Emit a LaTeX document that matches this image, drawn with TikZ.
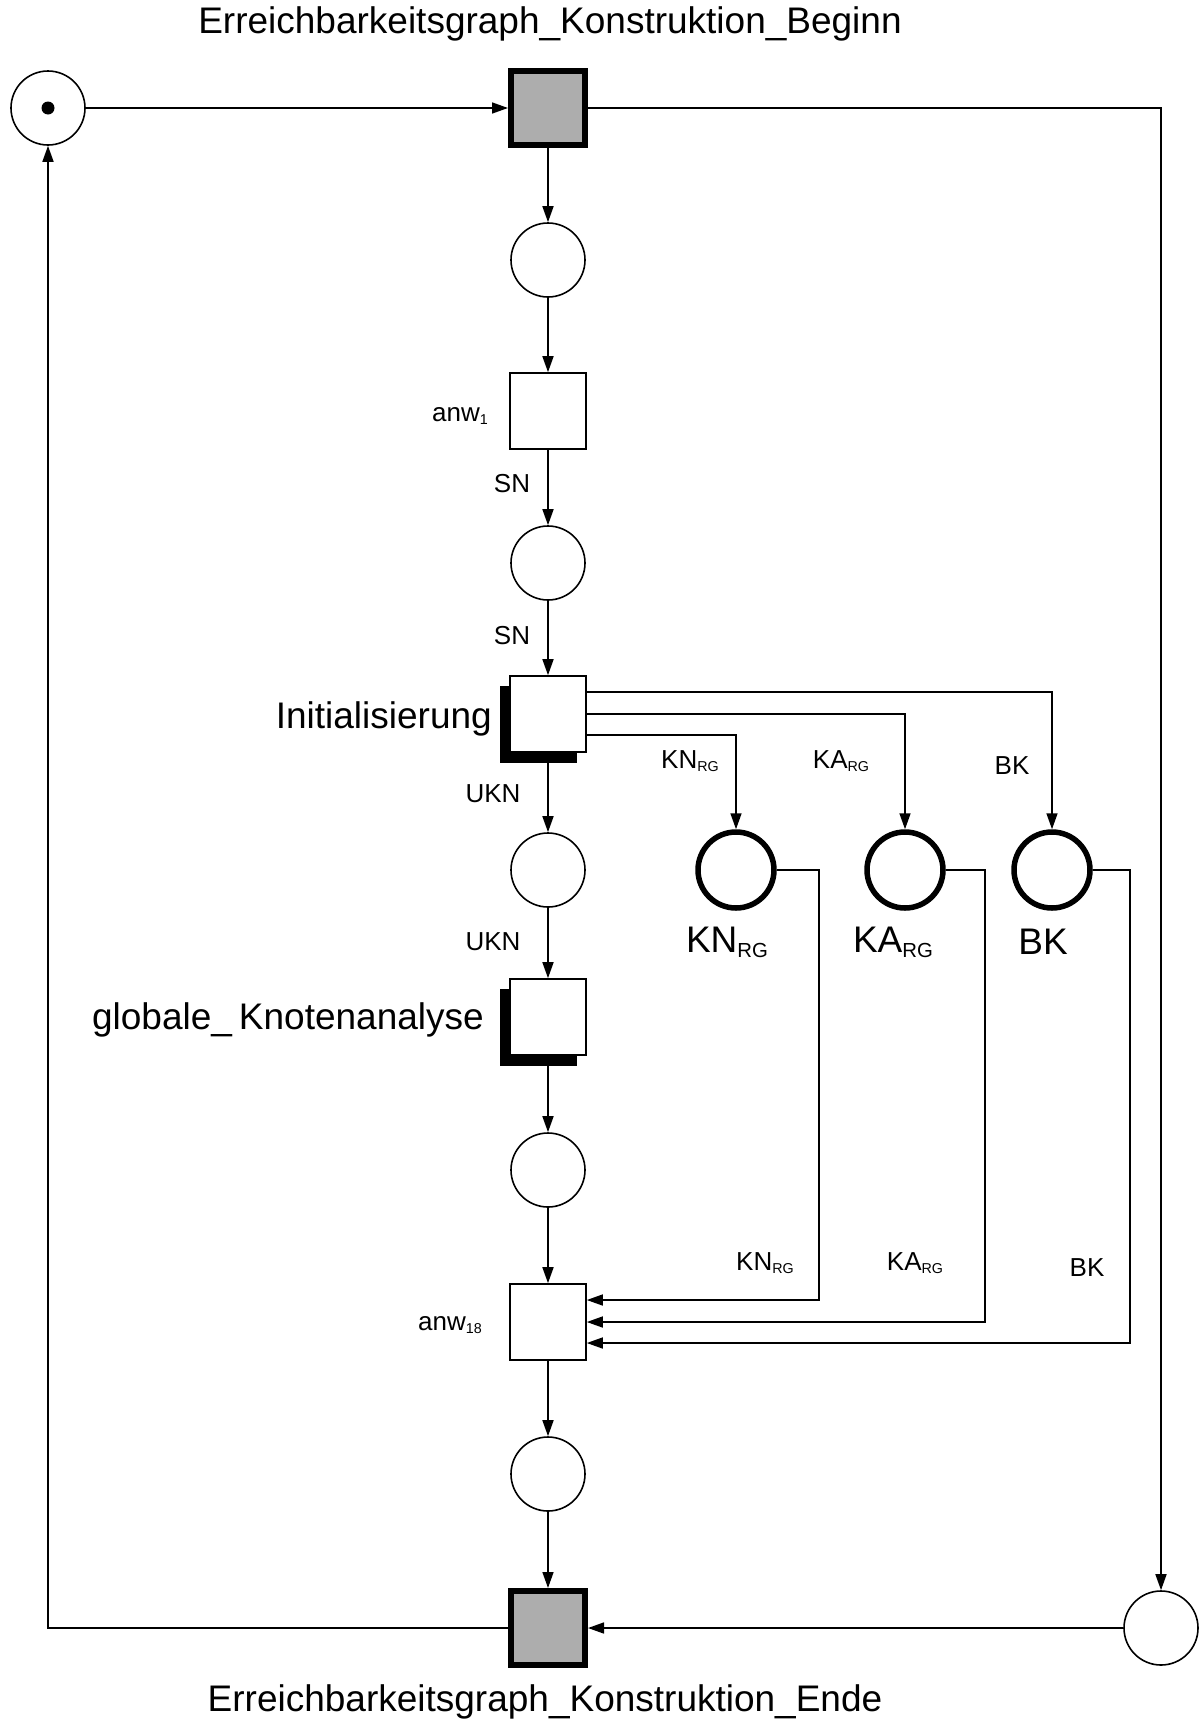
\documentclass[tikz,border=0pt]{standalone}
\usepackage{fontspec}
\setmainfont{Liberation Sans}
\usepackage{graphicx}
\usetikzlibrary{arrows.meta}
\newcommand\lsub[1]{\raisebox{-0.14em}{\scalebox{0.55}{#1}}}
\begin{document}
\begin{tikzpicture}[x=1pt,y=-1pt,
  place/.style={circle,draw,line width=1.6pt,minimum size=74pt,inner sep=0pt},
  bigplace/.style={circle,draw,line width=5.5pt,minimum size=76pt,inner sep=0pt},
  trans/.style={rectangle,draw,line width=1.6pt,minimum size=76pt,inner sep=0pt,fill=white},
  graytrans/.style={rectangle,draw,line width=6pt,minimum size=74pt,inner sep=0pt,fill=black!32},
  shadowbox/.style={rectangle,fill=black,minimum size=77pt,inner sep=0pt},
  arr/.style={line width=1.6pt,-{Triangle[length=16pt,width=11pt]}},
  ln/.style={line width=1.6pt},
  bigtxt/.style={inner sep=0pt,font=\fontsize{37}{44}\selectfont},
  smalltxt/.style={inner sep=0pt,font=\fontsize{26}{31}\selectfont}]
\useasboundingbox (0,0) rectangle (1202,1724);

% titles
\node[bigtxt] (ttop) at (550,24) {Erreichbarkeitsgraph\_Konstruktion\_Beginn};
\node[bigtxt] (tbot) at (545,1702) {Erreichbarkeitsgraph\_Konstruktion\_Ende};

% places and transitions
\node[place] (start) at (48,108) {};
\fill (start.center) circle (6.5pt);
\node[graytrans] (t1) at (548,108) {};
\node[place] (p1) at (548,260) {};
\node[trans] (anw1) at (548,411) {};
\node[place] (p2) at (548,563) {};
\node[shadowbox] (initsh) at (538,724) {};
\node[trans] (init) at (548,714) {};
\node[place] (p3) at (548,870) {};
\node[shadowbox] (globsh) at (538,1027) {};
\node[trans] (glob) at (548,1017) {};
\node[place] (p4) at (548,1170) {};
\node[trans] (anw18) at (548,1322) {};
\node[place] (p5) at (548,1474) {};
\node[graytrans] (tend) at (548,1628) {};
\node[place] (br) at (1161,1628) {};

\node[bigplace] (kn) at (736,870) {};
\node[bigplace] (ka) at (905,870) {};
\node[bigplace] (bk) at (1052,870) {};

% node labels
\node[smalltxt,anchor=east] (lanw1) at (488,416) {anw\lsub{1}};
\node[smalltxt,anchor=east] (lanw18) at (482,1325) {anw\lsub{18}};
\node[bigtxt,anchor=east] (linit) at (492,719) {Initialisierung};
\node[bigtxt,anchor=east] (lglob) at (484,1020) {globale\_\hspace{7pt}Knotenanalyse};
\node[bigtxt] (lkn) at (727,942) {KN\lsub{RG}};
\node[bigtxt] (lka) at (893,942) {KA\lsub{RG}};
\node[bigtxt] (lbk) at (1043,942) {BK};

% central chain
\draw[arr] (start) -- (t1);
\draw[arr] (t1) -- (p1);
\draw[arr] (p1) -- (anw1);
\draw[arr] (anw1) -- (p2);
\draw[arr] (p2) -- (init);
\draw[arr] (init) -- (p3);
\draw[arr] (p3) -- (glob);
\draw[arr] (glob) -- (p4);
\draw[arr] (p4) -- (anw18);
\draw[arr] (anw18) -- (p5);
\draw[arr] (p5) -- (tend);

% outer loop
\draw[arr] (t1) -| (br);
\draw[arr] (br) -- (tend);
\draw[arr] (tend) -| (start);

% Initialisierung to result places
\draw[arr] ([yshift=22pt]init.east) -| (bk);
\draw[arr] (init.east) -| (ka);
\draw[arr] ([yshift=-21pt]init.east) -| (kn);

% result places back to anw18
\draw[arr] (kn.east) -| (819,1300) -- ([yshift=22pt]anw18.east);
\draw[arr] (ka.east) -| (985,1322) -- (anw18.east);
\draw[arr] (bk.east) -| (1130,1343) -- ([yshift=-21pt]anw18.east);

% arc labels
\node[smalltxt] (aSN1) at (512,484) {SN};
\node[smalltxt] (aSN2) at (512,636) {SN};
\node[smalltxt] (aUKN1) at (493,794) {UKN};
\node[smalltxt] (aUKN2) at (493,942) {UKN};
\node[smalltxt] (akn1) at (690,761) {KN\lsub{RG}};
\node[smalltxt] (aka1) at (841,761) {KA\lsub{RG}};
\node[smalltxt] (abk1) at (1012,766) {BK};
\node[smalltxt] (akn2) at (765,1263) {KN\lsub{RG}};
\node[smalltxt] (aka2) at (915,1263) {KA\lsub{RG}};
\node[smalltxt] (abk2) at (1087,1268) {BK};
\end{tikzpicture}
\end{document}
